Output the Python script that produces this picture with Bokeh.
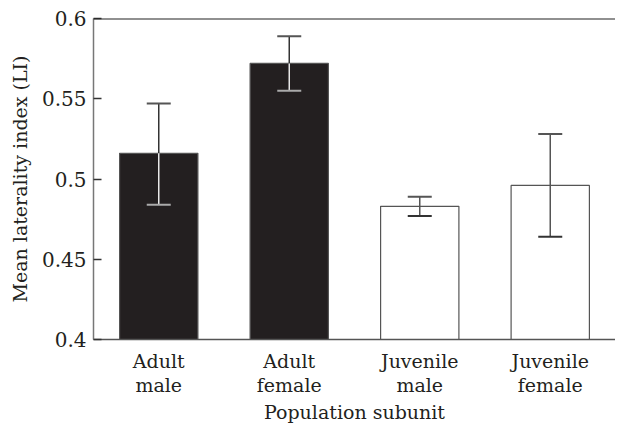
from bokeh.plotting import figure
from bokeh.models import ColumnDataSource, Whisker, TeeHead, FactorRange, Range1d, FixedTicker, Span
from bokeh.embed import file_html
from bokeh.resources import INLINE

categories = ["Adult\nmale", "Adult\nfemale", "Juvenile\nmale", "Juvenile\nfemale"]
means = [0.516, 0.572, 0.483, 0.496]
upper = [0.547, 0.589, 0.489, 0.528]
lower = [0.484, 0.555, 0.477, 0.464]
adult = [True, True, False, False]
y_ticks = [0.4, 0.45, 0.5, 0.55, 0.6]
y_tick_labels = ["0.4", "0.45", "0.5", "0.55", "0.6"]

FONT = "DejaVu Serif"
TXT = "#231f20"

p = figure(x_range=FactorRange(factors=categories, range_padding=0),
           y_range=Range1d(0.4, 0.6),
           width=615, height=425, output_backend="svg", toolbar_location=None,
           min_border_left=93, min_border_right=0, min_border_top=18, min_border_bottom=74)
p.outline_line_color = None
p.grid.visible = False
p.background_fill_color = "white"
p.border_fill_color = "white"

fills = ["#231f20" if a else "white" for a in adult]
src = ColumnDataSource(dict(x=categories, top=means, up=upper, lo=lower, fill=fills))
p.vbar(x="x", top="top", bottom=0.4, width=0.6, source=src, fill_color="fill",
       line_color="#555555", line_width=1.2)

def sub(idx):
    return ColumnDataSource(dict(x=[categories[i] for i in idx], top=[means[i] for i in idx],
                                 up=[upper[i] for i in idx], lo=[lower[i] for i in idx]))

a_idx = [i for i, a in enumerate(adult) if a]
j_idx = [i for i, a in enumerate(adult) if not a]
sa = sub(a_idx)
sj = sub(j_idx)

p.add_layout(Whisker(source=sa, base="x", upper="up", lower="top", line_color="#333333", line_width=1.5,
                     level="overlay",
                     upper_head=TeeHead(size=24, line_color="#555555", line_width=2), lower_head=None))
p.add_layout(Whisker(source=sa, base="x", upper="top", lower="lo", line_color="#e8e8e8", line_width=1.5,
                     level="overlay",
                     lower_head=TeeHead(size=24, line_color="#aaaaaa", line_width=2), upper_head=None))
p.add_layout(Whisker(source=sj, base="x", upper="up", lower="lo", line_color="#555555", line_width=1.5,
                     level="overlay",
                     upper_head=TeeHead(size=24, line_color="#555555", line_width=2),
                     lower_head=TeeHead(size=24, line_color="#333333", line_width=2)))

p.add_layout(Span(location=0.6, dimension="width", line_color="#222222", line_width=2, level="overlay"))

ya = p.yaxis[0]
ya.ticker = FixedTicker(ticks=y_ticks)
ya.major_label_overrides = {t: l for t, l in zip(y_ticks, y_tick_labels)}
ya.major_tick_in = 8
ya.major_tick_out = 0
ya.minor_tick_line_color = None
ya.axis_line_color = "#777777"
ya.axis_line_width = 1.5
ya.major_tick_line_color = "#333333"
ya.major_tick_line_width = 1.5
ya.major_label_text_font = FONT
ya.major_label_text_font_size = "20px"
ya.major_label_text_color = TXT
ya.major_label_standoff = 7
ya.axis_label = "Mean laterality index (LI)"
ya.axis_label_text_font = FONT
ya.axis_label_text_font_size = "19px"
ya.axis_label_text_font_style = "normal"
ya.axis_label_text_color = TXT
ya.axis_label_standoff = 8

xa = p.xaxis[0]
xa.major_tick_line_color = None
xa.minor_tick_line_color = None
xa.axis_line_color = "#555555"
xa.axis_line_width = 1.5
xa.major_label_text_font = FONT
xa.major_label_text_font_size = "19px"
xa.major_label_text_color = TXT
xa.major_label_text_line_height = 1.1
xa.major_label_standoff = 4
xa.axis_label = "Population subunit"
xa.axis_label_text_font = FONT
xa.axis_label_text_font_size = "19px"
xa.axis_label_text_font_style = "normal"
xa.axis_label_text_color = TXT
xa.axis_label_standoff = 2

open("out.html", "w").write(file_html(p, INLINE))
